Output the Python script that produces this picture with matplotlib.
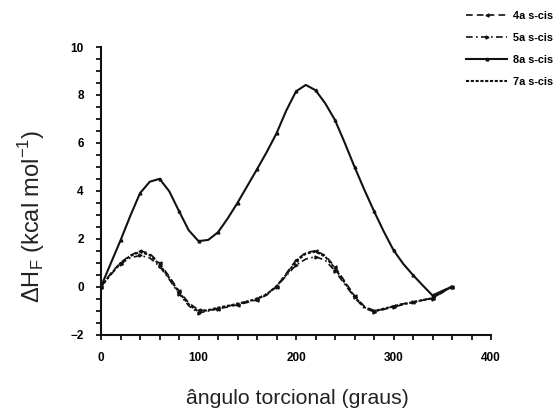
import matplotlib
matplotlib.use("Agg")
import matplotlib.pyplot as plt
from matplotlib.ticker import MultipleLocator

angles = list(range(0, 361, 10))

h_4a = [0.0, 0.55, 1.0, 1.3, 1.5, 1.38, 0.98, 0.42, -0.18, -0.68, -0.98,
        -1.0, -0.92, -0.85, -0.76, -0.66, -0.55, -0.35, 0.0, 0.55, 1.1,
        1.42, 1.5, 1.3, 0.82, 0.22, -0.38, -0.82, -1.0, -0.95, -0.82,
        -0.72, -0.65, -0.57, -0.47, -0.22, 0.0]

h_5a = [0.0, 0.5, 0.95, 1.2, 1.3, 1.2, 0.85, 0.3, -0.3, -0.8, -1.1,
        -1.02, -0.92, -0.82, -0.72, -0.62, -0.5, -0.3, 0.0, 0.45, 0.9,
        1.15, 1.25, 1.1, 0.65, 0.1, -0.45, -0.9, -1.05, -0.95, -0.85,
        -0.75, -0.65, -0.55, -0.5, -0.25, 0.0]

h_8a = [0.0, 0.97, 1.93, 2.95, 3.9, 4.38, 4.5, 3.98, 3.15, 2.35, 1.9,
        1.95, 2.27, 2.85, 3.5, 4.2, 4.9, 5.62, 6.4, 7.35, 8.15,
        8.42, 8.2, 7.65, 6.95, 6.0, 5.0, 4.05, 3.15, 2.3, 1.52,
        0.95, 0.48, 0.05, -0.37, -0.18, 0.0]

h_7a = [0.0, 0.52, 0.98, 1.28, 1.45, 1.32, 0.92, 0.36, -0.24, -0.74, -1.05,
        -0.98, -0.88, -0.8, -0.72, -0.62, -0.52, -0.32, 0.02, 0.5, 1.05,
        1.38, 1.46, 1.25, 0.76, 0.16, -0.42, -0.86, -1.02, -0.92, -0.82,
        -0.72, -0.66, -0.56, -0.48, -0.22, 0.0]

labels = ["4a s-cis", "5a s-cis", "8a s-cis", "7a s-cis"]

plt.rcParams['font.family'] = ['Liberation Sans', 'DejaVu Sans']
plt.rcParams['mathtext.fontset'] = 'custom'
plt.rcParams['mathtext.rm'] = 'Liberation Sans'

fig = plt.figure(figsize=(5.59, 4.13), dpi=100)
ax = fig.add_axes([0.1807, 0.190, 0.6977, 0.696])

c = '#111111'
ax.plot(angles, h_4a, linestyle=(0, (4, 2.5)), color=c, lw=1.2,
        marker='<', ms=2.2, markevery=2, label=labels[0])
ax.plot(angles, h_5a, linestyle=(0, (4, 2, 1, 2)), color=c, lw=1.2,
        marker='>', ms=2.2, markevery=2, label=labels[1])
ax.plot(angles, h_8a, linestyle='-', color=c, lw=1.5,
        marker='^', ms=2.0, markevery=2, label=labels[2])
ax.plot(angles, h_7a, linestyle=(0, (1.5, 0.8)), color=c, lw=1.5,
        label=labels[3])

ax.set_xlim(0, 400)
ax.set_ylim(-2, 10)
ax.xaxis.set_major_locator(MultipleLocator(100))
ax.xaxis.set_minor_locator(MultipleLocator(20))
ax.yaxis.set_major_locator(MultipleLocator(2))
ax.yaxis.set_minor_locator(MultipleLocator(0.5))

for s in ['top', 'right']:
    ax.spines[s].set_visible(False)
for s in ['left', 'bottom']:
    ax.spines[s].set_linewidth(1.5)
    ax.spines[s].set_color(c)

ax.tick_params(which='both', direction='out', length=3.5, width=1.3, color=c)
ax.tick_params(axis='y', pad=9)
ax.tick_params(axis='x', pad=9)
for lab in ax.get_xticklabels() + ax.get_yticklabels():
    lab.set_fontweight('bold')
    lab.set_fontsize(8.5)

fig.text(0.532, 0.036, "ângulo torcional (graus)", ha='center', va='center',
         fontsize=15.3, color='#222222')
fig.text(0.057, 0.475, r"$\Delta$H$_\mathrm{F}$ (kcal mol$^{\mathrm{-1}}$)",
         ha='center', va='center', rotation=90, fontsize=17, color='#222222')

leg = ax.legend(loc='upper left', bbox_to_anchor=(0.826, 0.985),
                bbox_transform=fig.transFigure, frameon=False,
                prop={'weight': 'bold', 'size': 7.8}, handlelength=3.8,
                handletextpad=0.5, labelspacing=1.13, borderaxespad=0)

fig.savefig("out.png", dpi=100)
